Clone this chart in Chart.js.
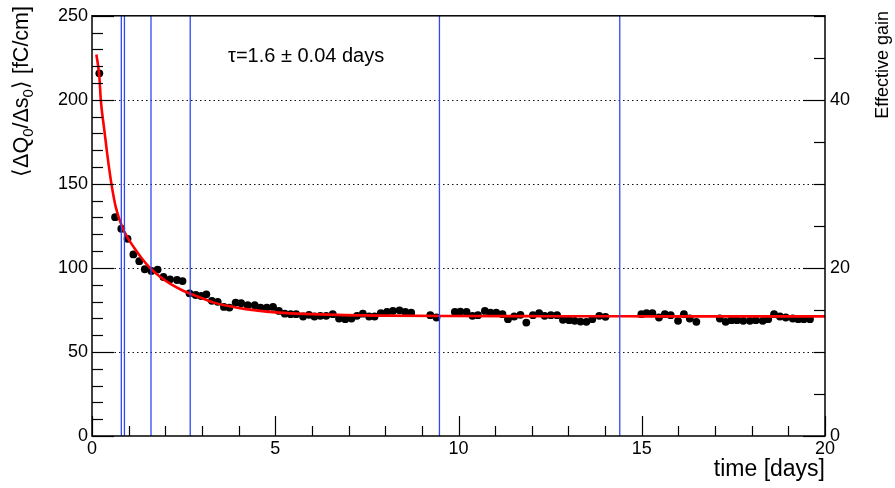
<!DOCTYPE html>
<html>
<head>
<meta charset="utf-8">
<script src="https://cdn.jsdelivr.net/npm/chart.js@4.4.1/dist/chart.umd.min.js"></script>
<style>
html,body{margin:0;padding:0;background:#fff;}
canvas{display:block;}
</style>
</head>
<body>
<canvas id="c" width="895" height="488"></canvas>
<script>
// ---- data ----
const timeDays = [0.20,0.63,0.80,0.97,1.13,1.29,1.44,1.62,1.79,1.95,2.13,2.32,2.47,2.66,2.83,2.98,3.12,3.27,3.43,3.60,3.75,3.92,4.07,4.25,4.44,4.60,4.77,4.94,5.10,5.26,5.42,5.57,5.76,5.92,6.07,6.23,6.39,6.57,6.74,6.91,7.08,7.23,7.39,7.56,7.71,7.88,8.05,8.21,8.39,8.55,8.71,9.23,9.40,9.90,10.05,10.22,10.38,10.53,10.72,10.87,11.03,11.20,11.35,11.52,11.69,11.85,12.03,12.20,12.35,12.52,12.69,12.85,13.02,13.17,13.33,13.49,13.65,13.84,14.01,14.99,15.13,15.29,15.47,15.63,15.79,15.99,16.15,16.31,16.49,17.13,17.29,17.45,17.60,17.77,17.95,18.11,18.30,18.45,18.61,18.77,18.93,19.12,19.27,19.42,19.59];
const chargeFC = [215.8,130.2,123.3,117.3,108,104,99.2,98.2,99,94.6,93.2,92.8,92.2,84.9,83.9,83.3,84.3,80.4,79.8,76.8,76.4,79.4,79,77.8,77.8,76.4,76.4,76.8,74.4,72.8,72.5,72.5,71.1,72.1,71.1,71.5,71.5,72.5,69.9,69.5,69.9,71.5,72.8,71.1,71.1,73.1,73.8,74.4,74.8,73.8,73.4,71.9,70.5,73.8,74,73.8,71.5,71.9,74.4,73.4,73.4,72.5,69.5,71.1,72.1,67.5,71.9,73.1,71.5,71.9,71.9,69.1,68.9,68.5,68.1,67.9,69.5,71.5,70.9,72.5,73.1,73.1,70.5,72.5,71.9,68.5,72.5,69.9,67.9,69.9,67.9,68.9,68.9,68.5,68.5,68.9,68.5,69.5,72.5,71.1,70.5,69.9,69.5,69.5,69.5];
const fitTime = [0.12,0.20,0.24,0.33,0.42,0.53,0.65,0.83,0.97,1.15,1.33,1.56,1.83,2.15,2.50,2.88,3.30,3.80,4.20,5.10,6.00,6.90,8.00,9.70,12.0,15.0,20.0];
const fitCharge = [227,214,200,183,167,150,136,124,118,112,106.5,100.5,95.2,90.3,86.3,83.0,79.5,77.0,75.5,73.4,72.5,71.9,71.6,71.4,71.3,71.2,71.2];
const markerDays = [0.80,0.885,1.61,2.68,9.48,14.40];
const xTickLabels = [0,5,10,15,20];
const yTickLabels = [0,50,100,150,200,250];
const gainTickLabels = [0,20,40];
const gridLevels = [50,100,150,200];
const fitLabel = "\u03C4=1.6 \u00B1 0.04 days";

const FONT = "'Liberation Sans', Arial, Helvetica, sans-serif";

const points = timeDays.map((t,i)=>({x:t,y:chargeFC[i]}));
const fit = fitTime.map((t,i)=>({x:t,y:fitCharge[i]}));
const markerSets = markerDays.map(d=>({
  data:[{x:d,y:0},{x:d,y:250}],
  showLine:true, borderColor:'#3048f2', borderWidth:1.3, pointRadius:0, order:0
}));

const deco = {
  id:'deco',
  beforeDatasetsDraw(chart){
    const {ctx, chartArea:a, scales} = chart;
    const y = scales.y;
    ctx.save();
    ctx.setLineDash([1.5,3]);
    ctx.strokeStyle='#111'; ctx.lineWidth=1.1;
    gridLevels.forEach(v=>{
      const py=Math.round(y.getPixelForValue(v))+0.5;
      ctx.beginPath(); ctx.moveTo(a.left,py); ctx.lineTo(a.right,py); ctx.stroke();
    });
    ctx.restore();
  },
  afterDraw(chart){
    const {ctx, chartArea:a, scales} = chart;
    const x=scales.x, y=scales.y, y2=scales.y2;
    ctx.save();
    ctx.strokeStyle='#000'; ctx.lineWidth=1.2; ctx.setLineDash([]);
    // left ticks
    for(let v=0; v<=250; v+=10){
      const py=Math.round(y.getPixelForValue(v))+0.5;
      const len = v%50===0 ? 22 : 11;
      ctx.beginPath(); ctx.moveTo(a.left,py); ctx.lineTo(a.left+len,py); ctx.stroke();
    }
    // right ticks
    for(let g=0; g<=50; g+=5){
      const py=Math.round(y2.getPixelForValue(g))+0.5;
      const len = g%20===0 ? 22 : 11;
      ctx.beginPath(); ctx.moveTo(a.right,py); ctx.lineTo(a.right-len,py); ctx.stroke();
    }
    // bottom ticks
    for(let t=0; t<=20; t+=1){
      const px=Math.round(x.getPixelForValue(t))+0.5;
      const len = t%5===0 ? 20 : 10;
      ctx.beginPath(); ctx.moveTo(px,a.bottom); ctx.lineTo(px,a.bottom-len); ctx.stroke();
    }
    // frame
    ctx.lineWidth=1.5;
    ctx.strokeRect(a.left,a.top,a.right-a.left,a.bottom-a.top);

    ctx.fillStyle='#000';
    // annotation
    ctx.font='20px '+FONT;
    ctx.textBaseline='alphabetic'; ctx.textAlign='left';
    ctx.fillText(fitLabel, 228, 62);

    // x title
    ctx.font='23px '+FONT;
    ctx.textAlign='right';
    ctx.fillText('time [days]', a.right, 476);

    // left title (rotated, with subscripts)
    const parts=[['\u27E8\u0394Q',false],['0',true],['/\u0394s',false],['0',true],['\u27E9 [fC/cm]',false]];
    const big='21.5px '+FONT, small='15px '+FONT;
    let total=0;
    parts.forEach(p=>{ctx.font=p[1]?small:big; total+=ctx.measureText(p[0]).width;});
    ctx.save();
    ctx.translate(28, 6+total);
    ctx.rotate(-Math.PI/2);
    ctx.textAlign='left';
    let cx=0;
    parts.forEach(p=>{
      ctx.font=p[1]?small:big;
      ctx.fillText(p[0], cx, p[1]?5:0);
      cx+=ctx.measureText(p[0]).width;
    });
    ctx.restore();

    // right title
    ctx.font='18px '+FONT;
    const w=ctx.measureText('Effective gain').width;
    ctx.save();
    ctx.translate(888, 11+w);
    ctx.rotate(-Math.PI/2);
    ctx.textAlign='left';
    ctx.fillText('Effective gain',0,0);
    ctx.restore();
    ctx.restore();
  }
};

new Chart(document.getElementById('c'), {
  type:'scatter',
  data:{
    datasets:[
      ...markerSets,
      {data:fit, showLine:true, borderColor:'#ff0000', borderWidth:2.6, pointRadius:0, cubicInterpolationMode:'monotone', order:1},
      {data:points, backgroundColor:'#000', borderColor:'#000', pointRadius:3.9, pointBorderWidth:0, showLine:false, order:2}
    ]
  },
  options:{
    responsive:false, animation:false, devicePixelRatio:1,
    layout:{padding:{top:14,left:0,right:0,bottom:0}},
    plugins:{legend:{display:false}, tooltip:{enabled:false}},
    scales:{
      x:{type:'linear', position:'bottom', min:0, max:20,
        grid:{display:false, drawTicks:false}, border:{display:false},
        afterBuildTicks:s=>{s.ticks=xTickLabels.map(v=>({value:v}));},
        afterFit:s=>{s.height=52;},
        ticks:{font:{family:FONT,size:18}, color:'#000', padding:2, maxRotation:0, autoSkip:false}
      },
      y:{type:'linear', position:'left', min:0, max:250,
        grid:{display:false, drawTicks:false}, border:{display:false},
        afterBuildTicks:s=>{s.ticks=yTickLabels.map(v=>({value:v}));},
        afterFit:s=>{s.width=92;},
        ticks:{font:{family:FONT,size:18}, color:'#000', padding:4, autoSkip:false}
      },
      y2:{type:'linear', position:'right', min:0, max:50,
        grid:{display:false, drawTicks:false}, border:{display:false},
        afterBuildTicks:s=>{s.ticks=gainTickLabels.map(v=>({value:v}));},
        afterFit:s=>{s.width=70;},
        ticks:{font:{family:FONT,size:18}, color:'#000', padding:5, autoSkip:false}
      }
    }
  },
  plugins:[deco]
});
</script>
</body>
</html>
